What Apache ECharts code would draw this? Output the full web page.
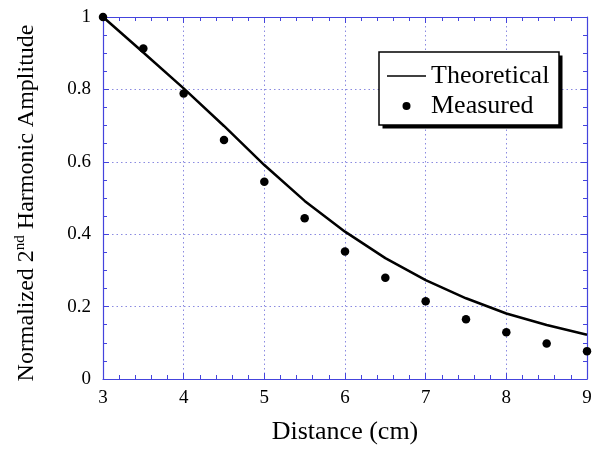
<!DOCTYPE html>
<html>
<head>
<meta charset="utf-8">
<script src="https://cdn.jsdelivr.net/npm/echarts@6/dist/echarts.min.js"></script>
<style>html,body{margin:0;padding:0;background:#fff;}#c{width:600px;height:452px;}</style>
</head>
<body>
<div id="c"></div>
<script>
const distance = [3, 3.5, 4, 4.5, 5, 5.5, 6, 6.5, 7, 7.5, 8, 8.5, 9];
const theoretical = [1.0, 0.902, 0.803, 0.699, 0.591, 0.492, 0.407, 0.334, 0.273, 0.223, 0.181, 0.149, 0.122];
const measured = [1.0, 0.913, 0.789, 0.660, 0.545, 0.444, 0.352, 0.280, 0.215, 0.165, 0.129, 0.098, 0.077];
const xTicks = [3, 4, 5, 6, 7, 8, 9];
const yTicks = [0, 0.2, 0.4, 0.6, 0.8, 1];

const FONT = '"Liberation Serif", "Times New Roman", serif';
const AXIS = '#4444dd';
const GRID = '#8a8ae0';

// legend box geometry (layout only)
const LEG = {left: 379, top: 52, pad: [9, 7, 4, 8], iconW: 39, textW: 121, rowH: 30};
const legW = LEG.pad[3] + LEG.iconW + 5 + LEG.textW + LEG.pad[1];
const legH = LEG.pad[0] + 2 * LEG.rowH + LEG.pad[2];

const chart = echarts.init(document.getElementById('c'), null, {renderer: 'canvas'});

function baseAxis(extra) {
  return Object.assign({
    axisLine: {show: true, onZero: false, lineStyle: {color: AXIS, width: 1.2}},
    axisTick: {show: true, inside: true, length: 6, lineStyle: {color: AXIS, width: 1}},
    minorTick: {show: true, length: 4, lineStyle: {color: AXIS, width: 1}},
    splitLine: {show: false},
    axisLabel: {show: false}
  }, extra);
}

chart.setOption({
  animation: false,
  backgroundColor: '#fff',
  grid: {left: 103, right: 13, top: 17, bottom: 73, containLabel: false},
  graphic: [{
    type: 'rect', z: 3, silent: true,
    shape: {x: LEG.left + 3.5, y: LEG.top + 3.5, width: legW, height: legH},
    style: {fill: '#000'}
  }],
  xAxis: [
    baseAxis({
      type: 'value', position: 'bottom', min: xTicks[0], max: xTicks[xTicks.length - 1], interval: 1,
      minorTick: {show: true, splitNumber: 5, length: 4, lineStyle: {color: AXIS, width: 1}},
      splitLine: {show: true, lineStyle: {color: GRID, width: 1, type: [1.5, 3]}},
      axisLabel: {show: true, margin: 10, fontFamily: FONT, fontSize: 19, color: '#000'},
      name: 'Distance (cm)', nameLocation: 'middle', nameGap: 40,
      nameTextStyle: {fontFamily: FONT, fontSize: 26, color: '#000'}
    }),
    baseAxis({
      type: 'value', position: 'top', min: xTicks[0], max: xTicks[xTicks.length - 1], interval: 1,
      minorTick: {show: true, splitNumber: 5, length: 4, lineStyle: {color: AXIS, width: 1}}
    })
  ],
  yAxis: [
    baseAxis({
      type: 'value', position: 'left', min: yTicks[0], max: yTicks[yTicks.length - 1], interval: 0.2,
      minorTick: {show: true, splitNumber: 4, length: 4, lineStyle: {color: AXIS, width: 1}},
      splitLine: {show: true, lineStyle: {color: GRID, width: 1, type: [1.5, 3]}},
      axisLabel: {show: true, margin: 12, fontFamily: FONT, fontSize: 19, color: '#000',
        formatter: v => String(Math.round(v * 10) / 10)},
      name: '{a|Normalized 2}{s|nd}{a| Harmonic Amplitude}',
      nameLocation: 'middle', nameGap: 62, nameRotate: 90,
      nameTextStyle: {
        fontFamily: FONT, fontSize: 24, color: '#000', padding: [0, 10, 0, 0],
        rich: {
          a: {fontFamily: FONT, fontSize: 24, color: '#000', lineHeight: 28},
          s: {fontFamily: FONT, fontSize: 15, color: '#000', verticalAlign: 'top'}
        }
      }
    }),
    baseAxis({
      type: 'value', position: 'right', min: yTicks[0], max: yTicks[yTicks.length - 1], interval: 0.2,
      minorTick: {show: true, splitNumber: 4, length: 4, lineStyle: {color: AXIS, width: 1}}
    })
  ],
  legend: {
    show: true,
    z: 4,
    orient: 'vertical',
    left: LEG.left, top: LEG.top,
    padding: LEG.pad,
    itemGap: 0,
    itemWidth: LEG.iconW, itemHeight: 8,
    backgroundColor: '#fff',
    borderColor: '#000', borderWidth: 1.5,
    textStyle: {fontFamily: FONT, fontSize: 26, color: '#000', lineHeight: LEG.rowH, width: LEG.textW, overflow: 'none'},
    data: [
      {name: 'Theoretical', icon: 'path://M0,0L40,0L40,1.4L0,1.4Z', itemStyle: {color: '#000', borderWidth: 0}},
      {name: 'Measured', icon: 'circle'}
    ]
  },
  series: [
    {
      name: 'Theoretical', type: 'line', xAxisIndex: 0, yAxisIndex: 0,
      data: distance.map((d, i) => [d, theoretical[i]]),
      symbol: 'none', smooth: false,
      lineStyle: {color: '#000', width: 2.5},
      itemStyle: {color: '#000'}
    },
    {
      name: 'Measured', type: 'scatter', xAxisIndex: 0, yAxisIndex: 0,
      data: distance.map((d, i) => [d, measured[i]]),
      symbol: 'circle', symbolSize: 8.5, clip: false,
      itemStyle: {color: '#000', opacity: 1}
    }
  ]
});
</script>
</body>
</html>
